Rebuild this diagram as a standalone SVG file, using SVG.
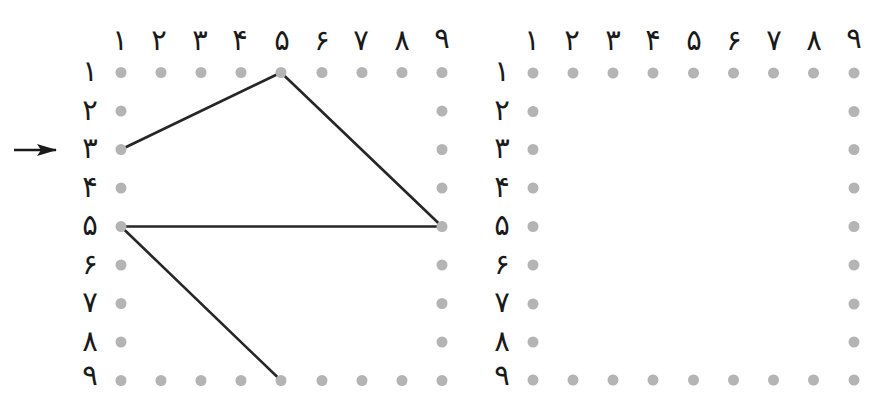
<svg xmlns="http://www.w3.org/2000/svg" xmlns:xlink="http://www.w3.org/1999/xlink" width="881" height="394" viewBox="0 0 881 394">
<style>
.lbl{font-family:"DejaVu Sans","Noto Sans",sans-serif;font-size:29px;fill:#1a1a1a;text-anchor:middle}
.dot{fill:#b4b4b4}
.conn{stroke:#262626;stroke-width:2.6;fill:none;stroke-linecap:round}
</style>
<defs>
<circle id="d" class="dot" r="5.5"/>
<marker id="ah" markerWidth="20" markerHeight="12" refX="19" refY="6" orient="auto" markerUnits="userSpaceOnUse">
<path d="M0,0 L20,6 L0,12 L4,6 Z" fill="#1a1a1a"/>
</marker>
</defs>
<rect width="881" height="394" fill="#fff"/>
<g id="left-top-labels">
<text class="lbl" x="120" y="50">۱</text><text class="lbl" x="159" y="50">۲</text><text class="lbl" x="200" y="50">۳</text><text class="lbl" x="240" y="50">۴</text><text class="lbl" x="282" y="50">۵</text><text class="lbl" x="322" y="50">۶</text><text class="lbl" x="361" y="50">۷</text><text class="lbl" x="402" y="50">۸</text><text class="lbl" x="442" y="48">۹</text>
</g>
<g id="left-side-labels">
<text class="lbl" x="90" y="81">۱</text><text class="lbl" x="90" y="119.5">۲</text><text class="lbl" x="90" y="158">۳</text><text class="lbl" x="90" y="196.5">۴</text><text class="lbl" x="90" y="235">۵</text><text class="lbl" x="90" y="273.5">۶</text><text class="lbl" x="90" y="312">۷</text><text class="lbl" x="90" y="350.5">۸</text><text class="lbl" x="90" y="385">۹</text>
</g>
<g id="right-top-labels">
<text class="lbl" x="532" y="50">۱</text><text class="lbl" x="572" y="50">۲</text><text class="lbl" x="613" y="50">۳</text><text class="lbl" x="653" y="50">۴</text><text class="lbl" x="694" y="50">۵</text><text class="lbl" x="734" y="50">۶</text><text class="lbl" x="774" y="50">۷</text><text class="lbl" x="814" y="50">۸</text><text class="lbl" x="854" y="48">۹</text>
</g>
<g id="right-side-labels">
<text class="lbl" x="502" y="81">۱</text><text class="lbl" x="502" y="119.5">۲</text><text class="lbl" x="502" y="158">۳</text><text class="lbl" x="502" y="196.5">۴</text><text class="lbl" x="502" y="235">۵</text><text class="lbl" x="502" y="273.5">۶</text><text class="lbl" x="502" y="312">۷</text><text class="lbl" x="502" y="350.5">۸</text><text class="lbl" x="502" y="385">۹</text>
</g>
<g id="connectors">
<line class="conn" x1="121" y1="149.5" x2="281" y2="72.5"/>
<line class="conn" x1="281" y1="72.5" x2="442" y2="226.5"/>
<line class="conn" x1="121" y1="226.5" x2="442" y2="226.5" stroke-width="3"/>
<line class="conn" x1="121" y1="226.5" x2="281" y2="380.5"/>
<line x1="14" y1="150" x2="56" y2="150" stroke="#1a1a1a" stroke-width="2.6" marker-end="url(#ah)"/>
</g>
<g id="left-grid">
<g id="L1-1"><use href="#d" x="121" y="72.5"/></g><g id="L1-2"><use href="#d" x="161" y="72.5"/></g><g id="L1-3"><use href="#d" x="201" y="72.5"/></g><g id="L1-4"><use href="#d" x="241" y="72.5"/></g><g id="L1-5"><use href="#d" x="281" y="72.5"/></g><g id="L1-6"><use href="#d" x="322" y="72.5"/></g><g id="L1-7"><use href="#d" x="362" y="72.5"/></g><g id="L1-8"><use href="#d" x="402" y="72.5"/></g><g id="L1-9"><use href="#d" x="442" y="72.5"/></g>
<g id="L2-1"><use href="#d" x="121" y="111"/></g><g id="L2-9"><use href="#d" x="442" y="111"/></g>
<g id="L3-1"><use href="#d" x="121" y="149.5"/></g><g id="L3-9"><use href="#d" x="442" y="149.5"/></g>
<g id="L4-1"><use href="#d" x="121" y="188"/></g><g id="L4-9"><use href="#d" x="442" y="188"/></g>
<g id="L5-1"><use href="#d" x="121" y="226.5"/></g><g id="L5-9"><use href="#d" x="442" y="226.5"/></g>
<g id="L6-1"><use href="#d" x="121" y="265"/></g><g id="L6-9"><use href="#d" x="442" y="265"/></g>
<g id="L7-1"><use href="#d" x="121" y="303.5"/></g><g id="L7-9"><use href="#d" x="442" y="303.5"/></g>
<g id="L8-1"><use href="#d" x="121" y="342"/></g><g id="L8-9"><use href="#d" x="442" y="342"/></g>
<g id="L9-1"><use href="#d" x="121" y="380.5"/></g><g id="L9-2"><use href="#d" x="161" y="380.5"/></g><g id="L9-3"><use href="#d" x="201" y="380.5"/></g><g id="L9-4"><use href="#d" x="241" y="380.5"/></g><g id="L9-5"><use href="#d" x="281" y="380.5"/></g><g id="L9-6"><use href="#d" x="322" y="380.5"/></g><g id="L9-7"><use href="#d" x="362" y="380.5"/></g><g id="L9-8"><use href="#d" x="402" y="380.5"/></g><g id="L9-9"><use href="#d" x="442" y="380.5"/></g>
</g>
<g id="right-grid">
<g id="R1-1"><use href="#d" x="533" y="73"/></g><g id="R1-2"><use href="#d" x="573" y="73"/></g><g id="R1-3"><use href="#d" x="613" y="73"/></g><g id="R1-4"><use href="#d" x="653" y="73"/></g><g id="R1-5"><use href="#d" x="693.5" y="73"/></g><g id="R1-6"><use href="#d" x="733.5" y="73"/></g><g id="R1-7"><use href="#d" x="773.5" y="73"/></g><g id="R1-8"><use href="#d" x="813.5" y="73"/></g><g id="R1-9"><use href="#d" x="854" y="73"/></g>
<g id="R2-1"><use href="#d" x="533" y="111.5"/></g><g id="R2-9"><use href="#d" x="854" y="111.5"/></g>
<g id="R3-1"><use href="#d" x="533" y="149.5"/></g><g id="R3-9"><use href="#d" x="854" y="149.5"/></g>
<g id="R4-1"><use href="#d" x="533" y="188"/></g><g id="R4-9"><use href="#d" x="854" y="188"/></g>
<g id="R5-1"><use href="#d" x="533" y="226.5"/></g><g id="R5-9"><use href="#d" x="854" y="226.5"/></g>
<g id="R6-1"><use href="#d" x="533" y="265"/></g><g id="R6-9"><use href="#d" x="854" y="265"/></g>
<g id="R7-1"><use href="#d" x="533" y="304"/></g><g id="R7-9"><use href="#d" x="854" y="304"/></g>
<g id="R8-1"><use href="#d" x="533" y="342"/></g><g id="R8-9"><use href="#d" x="854" y="342"/></g>
<g id="R9-1"><use href="#d" x="533" y="380"/></g><g id="R9-2"><use href="#d" x="573" y="380"/></g><g id="R9-3"><use href="#d" x="613" y="380"/></g><g id="R9-4"><use href="#d" x="653" y="380"/></g><g id="R9-5"><use href="#d" x="693.5" y="380"/></g><g id="R9-6"><use href="#d" x="733.5" y="380"/></g><g id="R9-7"><use href="#d" x="773.5" y="380"/></g><g id="R9-8"><use href="#d" x="813.5" y="380"/></g><g id="R9-9"><use href="#d" x="854" y="380"/></g>
</g>
</svg>
